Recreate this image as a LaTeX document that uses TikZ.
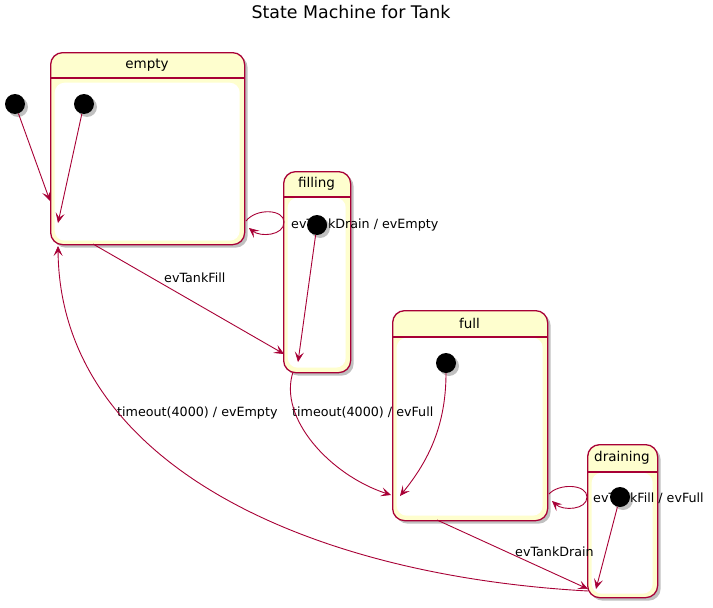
\documentclass[tikz,border=0pt]{standalone}
\usepackage{fontspec}
\setmainfont{DejaVu Sans}
\usetikzlibrary{arrows.meta,shadows}
\definecolor{umlred}{HTML}{A80036}
\definecolor{umlfill}{HTML}{FEFECE}
\tikzset{
  shad/.style={drop shadow={shadow xshift=3pt,shadow yshift=-3pt,opacity=0.35,fill=black!70}},
  statebox/.style={draw=umlred,line width=1.3pt,fill=umlfill,rounded corners=12pt,anchor=north west,inner sep=0pt,shad},
  innerbox/.style={fill=white,rounded corners=10pt,anchor=north west,inner sep=0pt,draw=none},
  initdot/.style={circle,fill=black,minimum size=20pt,inner sep=0pt,shad},
  sep/.style={draw=umlred,line width=1.3pt},
  trans/.style={draw=umlred,line width=0.9pt,-{Stealth[length=10pt,width=9pt,inset=4.5pt,line width=0.6pt]}},
  lbl/.style={font=\fontsize{12.7}{15}\selectfont,inner sep=0pt,anchor=west},
  sname/.style={font=\fontsize{13.5}{16}\selectfont,inner sep=0pt},
  ttl/.style={font=\fontsize{17.4}{20}\selectfont,inner sep=0pt}
}
\begin{document}
\begin{tikzpicture}[x=1pt,y=-1pt]
\useasboundingbox[fill=white] (0,0) rectangle (713,608);
\node[ttl] (title) at (351,12) {State Machine for Tank};

% states
\node[statebox,minimum width=194pt,minimum height=192pt] (empty) at (50,52) {};
\node[innerbox,minimum width=185pt,minimum height=158pt] (emptyin) at (54.5,82.5) {};
\draw[sep] (50,78) -- (244,78);
\node[sname] (emptyname) at (147,65) {empty};

\node[statebox,minimum width=67pt,minimum height=201pt] (filling) at (283,171) {};
\node[innerbox,minimum width=58pt,minimum height=170pt] (fillingin) at (287.5,197.5) {};
\draw[sep] (283,197) -- (350,197);
\node[sname] (fillingname) at (316.5,184) {filling};

\node[statebox,minimum width=155pt,minimum height=210pt] (full) at (392,310) {};
\node[innerbox,minimum width=146pt,minimum height=178pt] (fullin) at (396.5,337.5) {};
\draw[sep] (392,337) -- (547,337);
\node[sname] (fullname) at (469.5,323) {full};

\node[statebox,minimum width=70pt,minimum height=153pt] (draining) at (587,444) {};
\node[innerbox,minimum width=61pt,minimum height=121pt] (drainingin) at (591.5,472.5) {};
\draw[sep] (587,472) -- (657,472);
\node[sname] (drainingname) at (622,458) {draining};

% labels (under dots)
\node[lbl] (l1) at (164,278) {evTankFill};
\node[lbl] (l2) at (291,225) {evTankDrain / evEmpty};
\node[lbl] (l3) at (292,413) {timeout(4000) / evFull};
\node[lbl] (l4) at (117,413) {timeout(4000) / evEmpty};
\node[lbl] (l5) at (515,552) {evTankDrain};
\node[lbl] (l6) at (593,498) {evTankFill / evFull};

% initial dots
\node[initdot] (i0) at (15,104) {};
\node[initdot] (iE) at (84,104) {};
\node[initdot] (iF) at (317,225) {};
\node[initdot] (iU) at (446,363) {};
\node[initdot] (iD) at (620,497) {};

% end coordinates
\coordinate (eL) at (50,201);
\coordinate (eIn) at (58,223);
\coordinate (fIn) at (298,362);
\coordinate (uIn) at (400,496);
\coordinate (dIn) at (596,589);
\coordinate (eB) at (93,244);
\coordinate (eBin) at (58,246);
\coordinate (fL) at (284,354);
\coordinate (fB) at (293,372);
\coordinate (uL) at (391,495);
\coordinate (uB) at (437,520);
\coordinate (dL) at (588,589);
\coordinate (dL2) at (588,591);
\coordinate (eR1) at (246,221);
\coordinate (eR2) at (249,228);
\coordinate (uR1) at (549,494);
\coordinate (uR2) at (552,501);

% transitions
\draw[trans] (i0) -- (eL);
\draw[trans] (iE) -- (eIn);
\draw[trans] (iF) -- (fIn);
\draw[trans] (iU.south) .. controls (446,430) and (425,465) .. (uIn);
\draw[trans] (iD) -- (dIn);
\draw[trans] (eB) -- (fL);
\draw[trans] (fB) .. controls (278,418) and (330,475) .. (uL);
\draw[trans] (uB) -- (dL);
\draw[trans] (dL2) .. controls (300,575) and (60,460) .. (eBin);
\draw[trans] (eR1) .. controls (256,208) and (284,209) .. (284,222) .. controls (284,236) and (260,237) .. (eR2);
\draw[trans] (uR1) .. controls (559,483) and (587,484) .. (587,497) .. controls (587,510) and (563,511) .. (uR2);
\end{tikzpicture}
\end{document}
